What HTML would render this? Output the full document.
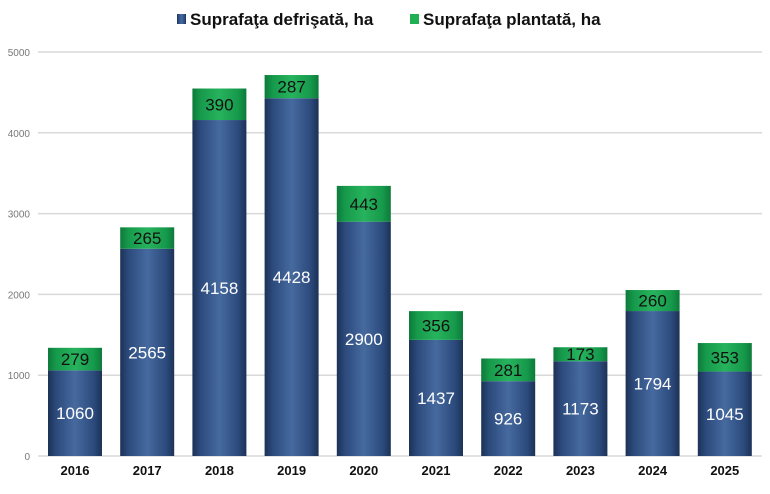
<!DOCTYPE html>
<html><head><meta charset="utf-8"><style>
body{margin:0;background:#fff;width:770px;height:489px;overflow:hidden;font-family:"Liberation Sans",Arial,sans-serif}
</style></head><body>
<svg id="chart" width="770" height="489" xmlns="http://www.w3.org/2000/svg">
<defs>
<linearGradient id="gb" x1="0" x2="1" y1="0" y2="0">
<stop offset="0" stop-color="#1c3256"/><stop offset="0.15" stop-color="#2c4a7c"/><stop offset="0.5" stop-color="#466a9f"/><stop offset="0.85" stop-color="#2c4a7c"/><stop offset="1" stop-color="#1c3256"/>
</linearGradient>
<linearGradient id="gg" x1="0" x2="1" y1="0" y2="0">
<stop offset="0" stop-color="#0d7a3a"/><stop offset="0.15" stop-color="#16994b"/><stop offset="0.5" stop-color="#27b35d"/><stop offset="0.85" stop-color="#16994b"/><stop offset="1" stop-color="#0d7a3a"/>
</linearGradient>
</defs>
<g id="grid"></g><g id="bars"></g>
<g>
<rect x="177" y="14" width="9" height="10" fill="url(#gb)"/>
<text x="190" y="25" font-size="17" font-weight="bold" fill="#111">Suprafaţa defrişată, ha</text>
<rect x="410" y="14" width="9" height="10" fill="#1fb054"/>
<text x="423" y="25" font-size="17" font-weight="bold" fill="#111">Suprafaţa plantată, ha</text>
</g>
</svg>
<script>
const years=["2016","2017","2018","2019","2020","2021","2022","2023","2024","2025"];
const defrisata=[1060,2565,4158,4428,2900,1437,926,1173,1794,1045];
const plantata=[279,265,390,287,443,356,281,173,260,353];
const yTicks=[0,1000,2000,3000,4000,5000];
const NS="http://www.w3.org/2000/svg";
const y=v=>456-v*0.0808;
const x=i=>75+i*72.2;
const bw=54;
function mk(t,a,p){const e=document.createElementNS(NS,t);for(const k in a)e.setAttribute(k,a[k]);p.appendChild(e);return e;}
const grid=document.getElementById('grid'),bars=document.getElementById('bars');
yTicks.forEach(v=>{
 const l=mk('line',{x1:38,x2:762,y1:y(v),y2:y(v),stroke:'#d9d9d9','stroke-width':1.5},grid);
 
 
 const t=mk('text',{x:30,y:y(v)+4,'text-anchor':'end','font-size':10,fill:'#777'},grid);
 t.textContent=v;
 
 
});
years.forEach((yr,i)=>{
 const cx=x(i),d=defrisata[i],p=plantata[i];
 const b=mk('rect',{x:cx-bw/2,y:y(d),width:bw,height:456-y(d),fill:'url(#gb)'},bars);
 
 
 const g=mk('rect',{x:cx-bw/2,y:y(d+p),width:bw,height:y(d)-y(d+p),fill:'url(#gg)'},bars);
 
 
 const t1=mk('text',{x:cx,y:(y(d)+456)/2+6,'text-anchor':'middle','font-size':17,fill:'#fff'},bars);
 t1.textContent=d;
 
 
 const t2=mk('text',{x:cx,y:(y(d)+y(d+p))/2+6,'text-anchor':'middle','font-size':17,fill:'#111'},bars);
 t2.textContent=p;
 
 
 const xl=mk('text',{x:cx,y:475,'text-anchor':'middle','font-size':13,'font-weight':'bold',fill:'#111'},bars);
 xl.textContent=yr;
 
 
});
</script>
</body></html>
